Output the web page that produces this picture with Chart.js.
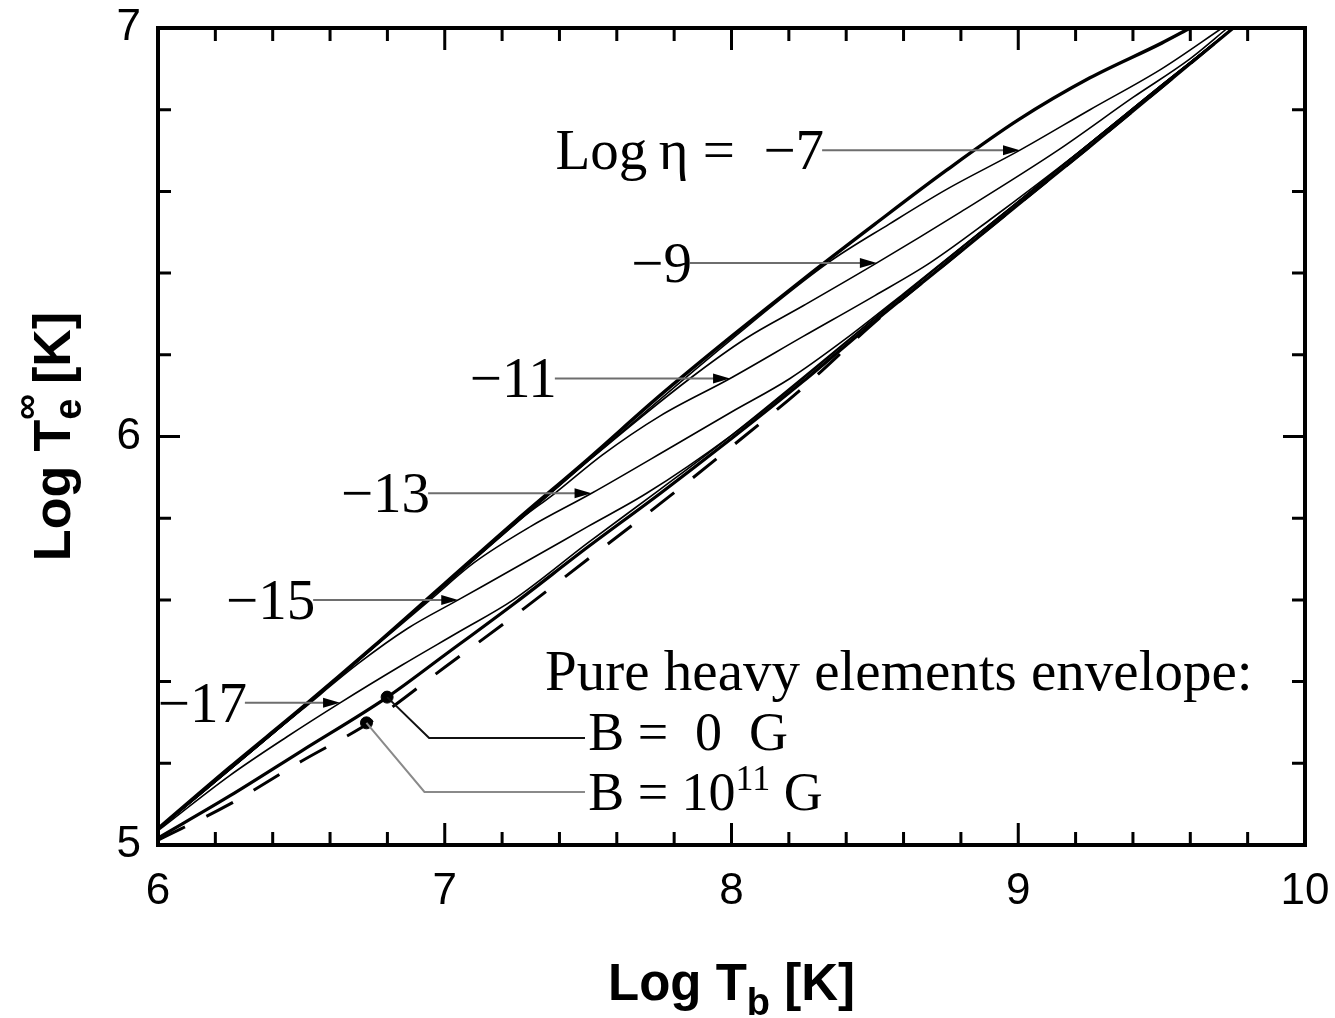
<!DOCTYPE html>
<html>
<head>
<meta charset="utf-8">
<script src="https://cdn.jsdelivr.net/npm/chart.js@4.4.1/dist/chart.umd.min.js"></script>
<style>
  html, body { margin: 0; padding: 0; background: #fff; }
</style>
</head>
<body>
<canvas id="chart" width="1335" height="1018"></canvas>
<script>
// Log Tb -> Log Te(inf) relations

// fully accreted envelope (upper thick curve)
const accretedX = [6.0, 6.25, 6.5, 6.75, 7.0, 7.25, 7.5, 7.75, 8.0, 8.25, 8.5, 8.75, 9.0, 9.25, 9.5, 9.6];
const accretedY = [5.04, 5.19, 5.335, 5.485, 5.64, 5.795, 5.945, 6.10, 6.245, 6.385, 6.52, 6.652, 6.775, 6.878, 6.963, 7.0];

// pure heavy elements, B = 0 (lower thick curve)
const ironX = [6.0, 6.25, 6.5, 6.8, 7.0, 7.25, 7.5, 7.75, 8.0, 8.25, 8.5, 8.75, 9.0, 9.25, 9.5, 9.75];
const ironY = [5.017, 5.12, 5.23, 5.362, 5.465, 5.595, 5.73, 5.86, 5.995, 6.135, 6.283, 6.425, 6.568, 6.71, 6.855, 7.0];

// pure heavy elements, B = 1e11 G (dashed)
const ironMagX = [6.0, 6.25, 6.5, 6.75, 7.0, 7.25, 7.5, 7.75, 8.0, 8.25, 8.5, 8.75, 9.0, 9.25, 9.5, 9.75];
const ironMagY = [5.012, 5.10, 5.205, 5.305, 5.435, 5.565, 5.70, 5.835, 5.975, 6.12, 6.28, 6.425, 6.568, 6.71, 6.855, 7.0];

// partially accreted envelopes, Log eta = -7 ... -17
const eta7X = [6.0, 6.5, 7.0, 7.5, 8.0, 8.336, 8.55, 8.75, 9.006, 9.25, 9.5, 9.711];
const eta7Y = [5.038, 5.332, 5.636, 5.94, 6.238, 6.425, 6.52, 6.605, 6.701, 6.80, 6.9, 7.0];
const eta9X = [6.0, 6.5, 7.0, 7.5, 7.855, 8.05, 8.25, 8.507, 8.8, 9.139, 9.4, 9.6, 9.73];
const eta9Y = [5.038, 5.332, 5.636, 5.94, 6.142, 6.24, 6.32, 6.425, 6.55, 6.701, 6.83, 6.925, 7.0];
const eta11X = [6.0, 6.5, 7.0, 7.25, 7.384, 7.55, 7.75, 7.995, 8.25, 8.5, 8.692, 8.9, 9.2, 9.5, 9.75];
const eta11Y = [5.038, 5.332, 5.636, 5.79, 5.861, 5.955, 6.05, 6.142, 6.245, 6.345, 6.425, 6.53, 6.69, 6.86, 7.0];
const eta13X = [6.0, 6.5, 6.75, 6.949, 7.1, 7.3, 7.512, 7.8, 8.0, 8.204, 8.4, 8.6, 9.0, 9.5, 9.75];
const eta13Y = [5.038, 5.332, 5.482, 5.600, 5.69, 5.78, 5.861, 5.978, 6.06, 6.142, 6.24, 6.35, 6.575, 6.86, 7.0];
const eta15X = [6.0, 6.25, 6.5, 6.7, 6.87, 7.047, 7.3, 7.5, 7.704, 8.0, 8.25, 8.5, 9.0, 9.5, 9.75];
const eta15Y = [5.038, 5.186, 5.33, 5.445, 5.53, 5.600, 5.70, 5.78, 5.861, 6.003, 6.142, 6.29, 6.575, 6.86, 7.0];
const eta17X = [6.0, 6.25, 6.45, 6.635, 6.85, 7.05, 7.239, 7.5, 7.75, 8.0, 8.5, 9.0, 9.5, 9.75];
const eta17Y = [5.035, 5.17, 5.265, 5.348, 5.44, 5.522, 5.600, 5.74, 5.87, 6.003, 6.29, 6.575, 6.86, 7.0];

// arrow labels and the curve points they point at
const etaLabels = ['Log\u2009\u03b7 =  \u22127', '\u22129', '\u221211', '\u221213', '\u221215', '\u221217'];
const etaTipX = [9.006, 8.507, 7.995, 7.512, 7.047, 6.635];
const etaTipY = [6.701, 6.425, 6.142, 5.861, 5.600, 5.348];
const etaLabelEnd = [8.316, 7.855, 7.384, 6.942, 6.541, 6.303];

// marked points on the heavy-element curves
const markB0 = { x: 6.799, y: 5.362 };
const markB11 = { x: 6.727, y: 5.299 };

const xTicks = [6, 7, 8, 9, 10];
const yTicks = [5, 6, 7];

const SERIF = '"Liberation Serif", "DejaVu Serif", serif';
const SANS = '"Liberation Sans", Arial, sans-serif';

function pts(xs, ys) {
  return xs.map((v, i) => ({ x: v, y: ys[i] }));
}

function isMajor(v) {
  return Math.abs(v - Math.round(v)) < 1e-6;
}

function curve(data, width, extra) {
  return Object.assign({
    data: data,
    showLine: true,
    borderColor: '#000',
    borderWidth: width,
    pointRadius: 0,
    fill: false,
    cubicInterpolationMode: 'monotone'
  }, extra || {});
}

// text made of pieces: [text, size, dy, noAdvance]
function richWidth(ctx, parts, weight, family) {
  let w = 0;
  parts.forEach(p => {
    ctx.font = `${weight} ${p[1]}px ${family}`;
    w += ctx.measureText(p[0]).width;
  });
  return w;
}

function drawRich(ctx, parts, x, y, weight, family) {
  let cx = x;
  parts.forEach(p => {
    ctx.font = `${weight} ${p[1]}px ${family}`;
    ctx.fillText(p[0], cx, y + p[2]);
    if (!p[3]) cx += ctx.measureText(p[0]).width;
  });
}

const frameAndText = {
  id: 'frameAndText',
  afterDraw(chart) {
    const { ctx, chartArea: a, scales: { x, y } } = chart;
    ctx.save();
    ctx.fillStyle = '#000';
    ctx.strokeStyle = '#000';

    // inward tick marks on all four sides
    ctx.lineWidth = 3;
    x.ticks.forEach(t => {
      const px = x.getPixelForValue(t.value);
      const len = isMajor(t.value) ? 22 : 13;
      ctx.beginPath();
      ctx.moveTo(px, a.bottom); ctx.lineTo(px, a.bottom - len);
      ctx.moveTo(px, a.top); ctx.lineTo(px, a.top + len);
      ctx.stroke();
    });
    y.ticks.forEach(t => {
      const py = y.getPixelForValue(t.value);
      const len = isMajor(t.value) ? 22 : 13;
      ctx.beginPath();
      ctx.moveTo(a.left, py); ctx.lineTo(a.left + len, py);
      ctx.moveTo(a.right, py); ctx.lineTo(a.right - len, py);
      ctx.stroke();
    });

    // frame
    ctx.lineWidth = 4;
    ctx.strokeRect(a.left, a.top, a.right - a.left, a.bottom - a.top);

    // axis titles
    ctx.textBaseline = 'alphabetic';
    ctx.textAlign = 'left';
    const xt = [['Log T', 51, 0], ['b', 38, 15], [' [K]', 51, 0]];
    const xw = richWidth(ctx, xt, 'bold', SANS);
    drawRich(ctx, xt, (a.left + a.right) / 2 - xw / 2, 1000, 'bold', SANS);

    const yt = [['Log T', 52, 0], ['\u221e', 36, -32, true], ['e', 38, 11], [' [K]', 52, 0]];
    const yw = richWidth(ctx, yt.filter(p => !p[3]), 'bold', SANS);
    ctx.save();
    ctx.translate(70, (a.top + a.bottom) / 2);
    ctx.rotate(-Math.PI / 2);
    drawRich(ctx, yt, -yw / 2, 0, 'bold', SANS);
    ctx.restore();

    ctx.restore();
  },
  afterDatasetsDraw(chart) {
    const { ctx, scales: { x, y } } = chart;
    ctx.save();

    // Log eta arrows
    etaLabels.forEach((label, i) => {
      const py = y.getPixelForValue(etaTipY[i]);
      const x0 = x.getPixelForValue(etaLabelEnd[i]);
      const x1 = x.getPixelForValue(etaTipX[i]);
      ctx.strokeStyle = '#6e6e6e';
      ctx.lineWidth = 2;
      ctx.beginPath();
      ctx.moveTo(x0, py);
      ctx.lineTo(x1 - 12, py);
      ctx.stroke();
      ctx.fillStyle = '#000';
      ctx.beginPath();
      ctx.moveTo(x1, py);
      ctx.lineTo(x1 - 17, py - 5);
      ctx.lineTo(x1 - 17, py + 5);
      ctx.closePath();
      ctx.fill();
      ctx.font = `57px ${SERIF}`;
      ctx.textAlign = 'right';
      ctx.textBaseline = 'alphabetic';
      ctx.fillText(label, x0 + 2, py + 19);
    });

    // leaders for the two heavy-element curves
    const leader = (m, dx, ey, color) => {
      ctx.strokeStyle = color;
      ctx.lineWidth = 2;
      ctx.beginPath();
      ctx.moveTo(x.getPixelForValue(m.x), y.getPixelForValue(m.y));
      ctx.lineTo(x.getPixelForValue(m.x) + dx, y.getPixelForValue(ey));
      ctx.lineTo(x.getPixelForValue(7.489), y.getPixelForValue(ey));
      ctx.stroke();
    };
    leader(markB0, 42, 5.262, '#111');
    leader(markB11, 58, 5.130, '#8a8a8a');

    ctx.fillStyle = '#000';
    ctx.textAlign = 'left';
    ctx.textBaseline = 'alphabetic';
    ctx.font = `57px ${SERIF}`;
    ctx.fillText('Pure heavy elements envelope:', x.getPixelForValue(7.35), y.getPixelForValue(5.379));
    ctx.font = `54px ${SERIF}`;
    ctx.fillText('B =  0  G', x.getPixelForValue(7.5), y.getPixelForValue(5.233));
    drawRich(ctx, [['B = 10', 54, 0], ['11', 36, -20], [' G', 54, 0]],
      x.getPixelForValue(7.5), y.getPixelForValue(5.086), 'normal', SERIF);

    ctx.restore();
  }
};

new Chart(document.getElementById('chart'), {
  type: 'scatter',
  data: {
    datasets: [
      curve(pts(eta7X, eta7Y), 1.6),
      curve(pts(eta9X, eta9Y), 1.6),
      curve(pts(eta11X, eta11Y), 1.6),
      curve(pts(eta13X, eta13Y), 1.6),
      curve(pts(eta15X, eta15Y), 1.6),
      curve(pts(eta17X, eta17Y), 1.6),
      curve(pts(ironMagX, ironMagY), 3, { borderDash: [30, 24] }),
      curve(pts(ironX, ironY), 3.2),
      curve(pts(accretedX, accretedY), 3.4),
      {
        data: [markB0, markB11],
        showLine: false,
        pointRadius: 6,
        pointBackgroundColor: '#000',
        pointBorderColor: '#000'
      }
    ]
  },
  options: {
    responsive: false,
    animation: false,
    devicePixelRatio: 1,
    layout: { padding: { top: 28, right: 30, left: 0, bottom: 0 } },
    plugins: { legend: { display: false }, tooltip: { enabled: false } },
    scales: {
      x: {
        type: 'linear',
        min: 6,
        max: 10,
        afterFit(s) { s.height = 173; s.paddingLeft = 0; s.paddingRight = 0; },
        grid: { display: false, drawTicks: false },
        border: { display: false },
        ticks: {
          stepSize: 0.2,
          autoSkip: false,
          maxRotation: 0,
          padding: 20,
          color: '#000',
          font: { family: SANS, size: 44 },
          callback: v => (isMajor(v) && xTicks.includes(Math.round(v))) ? String(Math.round(v)) : ''
        }
      },
      y: {
        type: 'linear',
        min: 5,
        max: 7,
        afterFit(s) { s.width = 158; s.paddingTop = 0; s.paddingBottom = 0; },
        grid: { display: false, drawTicks: false },
        border: { display: false },
        ticks: {
          stepSize: 0.2,
          autoSkip: false,
          padding: 17,
          color: '#000',
          font: { family: SANS, size: 44 },
          callback: v => (isMajor(v) && yTicks.includes(Math.round(v))) ? String(Math.round(v)) : ''
        }
      }
    }
  },
  plugins: [frameAndText]
});
</script>
</body>
</html>
